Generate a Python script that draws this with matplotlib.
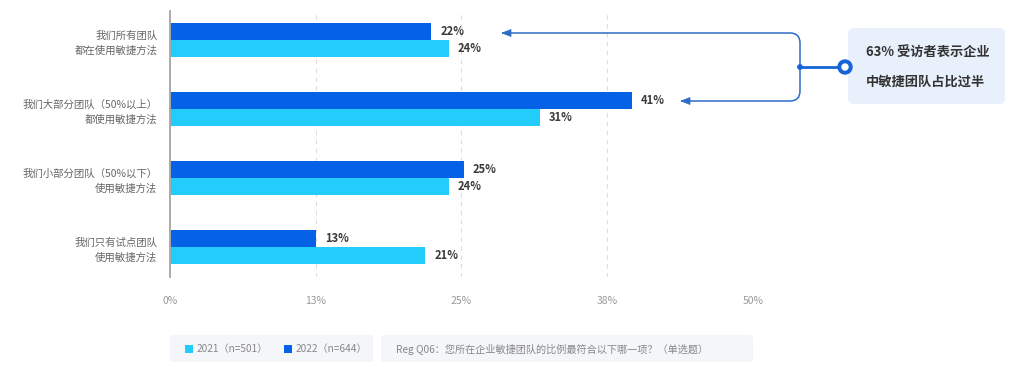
import matplotlib
matplotlib.use("Agg")
import matplotlib.pyplot as plt
import numpy as np
from matplotlib.patches import FancyBboxPatch, Rectangle, Circle, PathPatch, Polygon
from matplotlib.path import Path
from matplotlib.transforms import Affine2D

plt.rcParams['font.family'] = ['Noto Sans CJK SC', 'DejaVu Sans']

# ---------------- data ----------------
categories = ["我们所有团队\n都在使用敏捷方法",
              "我们大部分团队（50%以上）\n都使用敏捷方法",
              "我们小部分团队（50%以下）\n使用敏捷方法",
              "我们只有试点团队\n使用敏捷方法"]
values_2022 = [22.4, 39.6, 25.2, 12.5]
values_2021 = [23.9, 31.7, 23.9, 21.9]
labels_2022 = ["22%", "41%", "25%", "13%"]
labels_2021 = ["24%", "31%", "24%", "21%"]
series_names = ["2021（n=501）", "2022（n=644）"]
xticks = [0, 12.5, 25, 37.5, 50]
xtick_labels = ["0%", "13%", "25%", "38%", "50%"]
note = "Reg Q06：您所在企业敏捷团队的比例最符合以下哪一项？（单选题）"
callout_lines = ["63% 受访者表示企业", "中敏捷团队占比过半"]

DARK = "#0562E6"
LIGHT = "#22CDFC"
ARROW = "#2D6DC8"

W, H = 1027, 367
fig = plt.figure(figsize=(W / 100, H / 100), dpi=100)
PX = Affine2D().scale(1, -1).translate(0, H)  # pixel coords, origin top-left

ax = fig.add_axes([170 / W, 1 - 277 / H, (753 - 170) / W, (277 - 11) / H])

y = np.arange(len(categories))
h = 0.24
b22 = ax.barh(y - h / 2, values_2022, height=h, color=DARK, zorder=3)
b21 = ax.barh(y + h / 2, values_2021, height=h, color=LIGHT, zorder=3)

for vals, labs, off in ((values_2022, labels_2022, -h / 2), (values_2021, labels_2021, h / 2)):
    for i, (v, l) in enumerate(zip(vals, labs)):
        ax.annotate(l, (v, i + off), xytext=(6.5, 0), textcoords="offset points",
                    va="center", ha="left", fontsize=8, fontweight="bold", color="#3a3a3a")

ax.set_xlim(0, 50)
ax.set_ylim(3.435, -0.42)
ax.set_xticks(xticks)
ax.set_xticklabels(xtick_labels, fontsize=7.5, color="#999999")
ax.tick_params(axis="x", length=0, pad=14)
ax.set_yticks(y)
ax.set_yticklabels(categories, fontsize=7.5, color="#666666", linespacing=1.6)
ax.tick_params(axis="y", length=0, pad=9)
for lbl in ax.get_yticklabels():
    lbl.set_horizontalalignment("right")
    lbl.set_multialignment("right")
for s in ("top", "right", "bottom"):
    ax.spines[s].set_visible(False)
ax.spines["left"].set_color("#aaaaaa")
ax.spines["left"].set_linewidth(1.4)
ax.spines["left"].set_zorder(4)
for xt in xticks[1:]:
    ax.axvline(xt, color="#dddddd", lw=0.8, ls=(0, (4, 4)), zorder=1)

# ---------------- callout ----------------
r = 10
xb = 800
y1, y2 = 33, 101
verts = [(502, y1), (xb - r, y1), (xb, y1), (xb, y1 + r), (xb, y2 - r), (xb, y2), (xb - r, y2), (681, y2)]
codes = [Path.MOVETO, Path.LINETO, Path.CURVE3, Path.CURVE3, Path.LINETO, Path.CURVE3, Path.CURVE3, Path.LINETO]
fig.add_artist(PathPatch(Path(verts, codes), fill=False, edgecolor=ARROW, lw=1.1, transform=PX))
for tx, ty in ((502, y1), (681, y2)):
    fig.add_artist(Polygon([(tx, ty), (tx + 9, ty - 3.5), (tx + 9, ty + 3.5)], closed=True,
                           facecolor=ARROW, edgecolor=ARROW, lw=0.5, transform=PX))
ym = (y1 + y2) / 2
fig.add_artist(plt.Line2D([xb, 845], [ym, ym], color="#1565D8", lw=2, transform=PX))
fig.add_artist(Circle((xb, ym), 2.2, color="#1565D8", transform=PX))

box = FancyBboxPatch((848, 28), 157, 76, boxstyle="round,pad=0,rounding_size=6",
                     facecolor="#E8F0FC", edgecolor="none", transform=PX)
fig.add_artist(box)
fig.add_artist(Circle((845, ym), 7, color="#1565D8", transform=PX, zorder=5))
fig.add_artist(Circle((845, ym), 3, color="white", transform=PX, zorder=6))
fig.text(866, 53, callout_lines[0], transform=PX, fontsize=9.5, fontweight="bold",
         color="#333333", va="center", ha="left")
fig.text(866, 82, callout_lines[1], transform=PX, fontsize=9.5, fontweight="bold",
         color="#333333", va="center", ha="left")

# ---------------- legend / note ----------------
fig.add_artist(FancyBboxPatch((170, 335), 203, 27, boxstyle="round,pad=0,rounding_size=3",
                              facecolor="#F4F6FA", edgecolor="none", transform=PX))
fig.add_artist(FancyBboxPatch((381, 335), 372, 27, boxstyle="round,pad=0,rounding_size=3",
                              facecolor="#F4F6FA", edgecolor="none", transform=PX))
legend_items = [(b21.patches[0].get_facecolor(), series_names[0], 185),
                (b22.patches[0].get_facecolor(), series_names[1], 284)]
for col, name, lx in legend_items:
    fig.add_artist(Rectangle((lx, 344.5), 8, 8, facecolor=col, edgecolor="none", transform=PX))
    fig.text(lx + 12, 349, name, transform=PX, fontsize=7.3, color="#888888", va="center", ha="left")
fig.text(396, 349, note, transform=PX, fontsize=7.3, color="#888888", va="center", ha="left")

fig.savefig("out.png", dpi=100)
